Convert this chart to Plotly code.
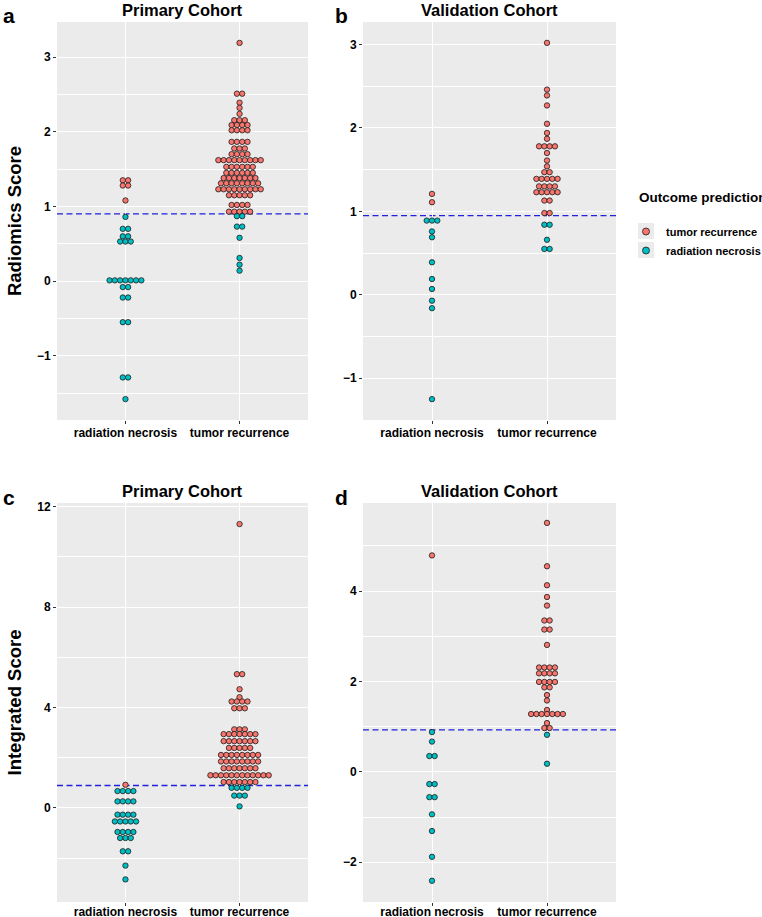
import plotly.graph_objects as go

FIG_W, FIG_H = 762, 917
CATEGORIES = ["radiation necrosis", "tumor recurrence"]
OUTCOMES = ["tumor recurrence", "radiation necrosis"]
COLORS = {"tumor recurrence": "#F8766D", "radiation necrosis": "#00BFC4"}
PANEL_TITLES = ["Primary Cohort", "Validation Cohort", "Primary Cohort", "Validation Cohort"]
PANEL_LETTERS = ["a", "b", "c", "d"]
Y_TITLES = ["Radiomics Score", "Integrated Score"]
LEGEND_TITLE = "Outcome prediction"
THRESHOLDS = [0.90, 0.95, 0.89, 0.93]

# ---- Panel a: Radiomics score, primary cohort (bin value, dots in bin) ----
a_rn_red_y = [1.35, 1.28, 1.08]
a_rn_red_n = [2, 2, 1]
a_rn_cyan_y = [0.86, 0.70, 0.60, 0.53, 0.01, -0.08, -0.22, -0.55, -1.29, -1.58]
a_rn_cyan_n = [1, 2, 2, 3, 7, 2, 2, 2, 2, 1]
a_tr_red_y = [3.19, 2.51, 2.39, 2.32, 2.24, 2.155, 2.09, 2.02, 1.865, 1.776, 1.70,
              1.62, 1.53, 1.45, 1.38, 1.31, 1.23, 1.15, 1.02, 0.93]
a_tr_red_n = [1, 2, 1, 1, 1, 3, 4, 4, 4, 3, 4, 9, 6, 6, 7, 8, 9, 5, 4, 5]
a_tr_cyan_y = [0.87, 0.73, 0.58, 0.31, 0.22, 0.14]
a_tr_cyan_n = [2, 2, 1, 1, 1, 1]

# ---- Panel b: Radiomics score, validation cohort ----
b_rn_red_y = [1.21, 1.11]
b_rn_red_n = [1, 1]
b_rn_cyan_y = [0.89, 0.76, 0.69, 0.39, 0.19, 0.07, -0.07, -0.16, -1.25]
b_rn_cyan_n = [3, 1, 1, 1, 1, 1, 1, 1, 1]
b_tr_red_y = [3.02, 2.46, 2.39, 2.27, 2.05, 1.94, 1.87, 1.78, 1.70, 1.61, 1.54,
              1.47, 1.39, 1.30, 1.23, 1.13, 0.98]
b_tr_red_n = [1, 1, 1, 1, 1, 1, 1, 4, 1, 1, 1, 2, 5, 4, 5, 2, 2]
b_tr_cyan_y = [0.84, 0.66, 0.55]
b_tr_cyan_n = [2, 1, 2]

# ---- Panel c: Integrated score, primary cohort ----
c_rn_red_y = [0.92]
c_rn_red_n = [1]
c_rn_cyan_y = [0.67, 0.26, -0.27, -0.54, -0.96, -1.20, -1.73, -2.30, -2.85]
c_rn_cyan_n = [4, 4, 4, 5, 4, 3, 2, 1, 1]
c_tr_red_y = [11.31, 5.33, 4.73, 4.41, 4.24, 3.97, 3.13, 2.94, 2.66, 2.39, 2.11,
              1.85, 1.58, 1.30, 1.03]
c_tr_red_n = [1, 2, 1, 1, 4, 3, 3, 7, 7, 5, 8, 8, 7, 12, 7]
c_tr_cyan_y = [0.80, 0.49, 0.06]
c_tr_cyan_n = [4, 3, 1]

# ---- Panel d: Integrated score, validation cohort ----
d_rn_red_y = [4.79]
d_rn_red_n = [1]
d_rn_cyan_y = [0.88, 0.67, 0.35, -0.27, -0.56, -0.94, -1.31, -1.88, -2.41]
d_rn_cyan_n = [1, 1, 2, 2, 2, 1, 1, 1, 1]
d_tr_red_y = [5.51, 4.55, 4.13, 3.87, 3.68, 3.35, 3.15, 2.81, 2.31, 2.18, 1.99,
              1.87, 1.70, 1.58, 1.37, 1.28, 1.08, 0.97]
d_tr_red_n = [1, 1, 1, 1, 1, 2, 2, 1, 4, 4, 4, 2, 1, 1, 1, 7, 1, 2]
d_tr_cyan_y = [0.82, 0.18]
d_tr_cyan_n = [1, 1]

PANEL_DATA = [
    [(a_rn_red_y, a_rn_red_n, a_rn_cyan_y, a_rn_cyan_n), (a_tr_red_y, a_tr_red_n, a_tr_cyan_y, a_tr_cyan_n)],
    [(b_rn_red_y, b_rn_red_n, b_rn_cyan_y, b_rn_cyan_n), (b_tr_red_y, b_tr_red_n, b_tr_cyan_y, b_tr_cyan_n)],
    [(c_rn_red_y, c_rn_red_n, c_rn_cyan_y, c_rn_cyan_n), (c_tr_red_y, c_tr_red_n, c_tr_cyan_y, c_tr_cyan_n)],
    [(d_rn_red_y, d_rn_red_n, d_rn_cyan_y, d_rn_cyan_n), (d_tr_red_y, d_tr_red_n, d_tr_cyan_y, d_tr_cyan_n)],
]

# ---- layout geometry (pixels) ----
PANELS = [
    dict(x=(57, 308), y=(22, 420), yr=(-1.86, 3.47), dt=1, mdt=0.5, lab=-1),
    dict(x=(363, 616), y=(22, 420), yr=(-1.50, 3.27), dt=1, mdt=0.5, lab=-1),
    dict(x=(57, 308), y=(503, 902), yr=(-3.75, 12.15), dt=4, mdt=2, lab=-4),
    dict(x=(363, 616), y=(503, 902), yr=(-2.88, 5.95), dt=2, mdt=1, lab=-4),
]
X_RANGE = (0.4, 2.6)
DOT_STEP_PX = 5.3
DOT_SIZE = 5.4
FONT = "Liberation Sans, Arial, sans-serif"
LEG_X, LEG_TITLE_Y, LEG_ITEM_Y, LEG_STEP = 637, 197, 231, 19


def px_x(v):
    return v / FIG_W


def px_y(v):
    return 1 - v / FIG_H


def stack(cat_index, ys, ns, step):
    xs, yy = [], []
    for y, n in zip(ys, ns):
        for i in range(n):
            xs.append(cat_index + (i - (n - 1) / 2) * step)
            yy.append(y)
    return xs, yy


fig = go.Figure()
layout = {}
shapes = []
annotations = []

for p, (panel, data) in enumerate(zip(PANELS, PANEL_DATA)):
    sfx = "" if p == 0 else str(p + 1)
    xa, ya = "x" + sfx, "y" + sfx
    width_px = panel["x"][1] - panel["x"][0]
    step = DOT_STEP_PX * (X_RANGE[1] - X_RANGE[0]) / width_px
    for ci, (ry, rn, cy, cn) in enumerate(data):
        for outcome, ys, ns in (("tumor recurrence", ry, rn), ("radiation necrosis", cy, cn)):
            xs, yy = stack(ci + 1, ys, ns, step)
            fig.add_trace(go.Scatter(
                x=xs, y=yy, mode="markers", xaxis=xa, yaxis=ya,
                marker=dict(size=DOT_SIZE, color=COLORS[outcome],
                            line=dict(color="#1a1a1a", width=0.8)),
                name=outcome, legendgroup=outcome, showlegend=False,
                hovertemplate="%{y:.2f}<extra>" + outcome + "</extra>"))
    xdom = [px_x(panel["x"][0]), px_x(panel["x"][1])]
    ydom = [px_y(panel["y"][1]), px_y(panel["y"][0])]
    tickfont = dict(family=FONT, size=12, color="black", weight="bold")
    layout["xaxis" + sfx] = dict(
        domain=xdom, anchor=ya, range=list(X_RANGE), tickvals=[1, 2], ticktext=CATEGORIES,
        showgrid=True, gridcolor="white", gridwidth=1.2, zeroline=False, showline=False,
        ticks="outside", ticklen=3, tickcolor="#333333", tickwidth=1, tickfont=tickfont,
        ticklabelstandoff=panel["lab"], automargin=False, fixedrange=True)
    ydict = dict(
        domain=ydom, anchor=xa, range=list(panel["yr"]), tick0=0, dtick=panel["dt"],
        showgrid=True, gridcolor="white", gridwidth=1.2, zeroline=False, showline=False,
        ticks="outside", ticklen=3, tickcolor="#333333", tickwidth=1, tickfont=tickfont,
        minor=dict(tick0=0, dtick=panel["mdt"], showgrid=True, gridcolor="white",
                   gridwidth=0.5, ticks=""),
        automargin=False, fixedrange=True)
    if p in (0, 2):
        ydict["title"] = dict(text=Y_TITLES[p // 2],
                              font=dict(family=FONT, size=18.5, color="black", weight="bold"),
                              standoff=10)
    layout["yaxis" + sfx] = ydict
    shapes.append(dict(type="line", xref=xa + " domain", yref=ya, x0=0, x1=1,
                       y0=THRESHOLDS[p], y1=THRESHOLDS[p], layer="below",
                       line=dict(color="#2020DD", width=1.4, dash="6px,3.5px")))
    cx = (panel["x"][0] + panel["x"][1]) / 2
    annotations.append(dict(text=PANEL_TITLES[p], xref="paper", yref="paper",
                            x=px_x(cx), y=px_y(panel["y"][0] - 12),
                            xanchor="center", yanchor="middle", showarrow=False,
                            font=dict(family=FONT, size=16.5, color="black", weight="bold")))
    lx = 9 if p in (0, 2) else 341
    annotations.append(dict(text=PANEL_LETTERS[p], xref="paper", yref="paper",
                            x=px_x(lx), y=px_y(panel["y"][0] - 6),
                            xanchor="center", yanchor="middle", showarrow=False,
                            font=dict(family=FONT, size=21, color="black", weight="bold")))

# legend title and grey legend keys (ggplot style)
annotations.append(dict(text=LEGEND_TITLE, xref="paper", yref="paper",
                        x=px_x(LEG_X), y=px_y(LEG_TITLE_Y), xanchor="left", yanchor="middle",
                        showarrow=False,
                        font=dict(family=FONT, size=13.5, color="black", weight="bold")))
for k in range(len(OUTCOMES)):
    cy = LEG_ITEM_Y + k * LEG_STEP
    shapes.append(dict(type="rect", xref="paper", yref="paper",
                       x0=px_x(638), x1=px_x(654), y0=px_y(cy + 8), y1=px_y(cy - 8),
                       fillcolor="#EBEBEB", line=dict(width=0), layer="below"))

# legend-only traces
for outcome in OUTCOMES:
    fig.add_trace(go.Scatter(
        x=[None], y=[None], mode="markers", name=outcome, legendgroup=outcome,
        marker=dict(size=7, color=COLORS[outcome], line=dict(color="#1a1a1a", width=0.8)),
        showlegend=True))

fig.update_layout(
    width=FIG_W, height=FIG_H,
    margin=dict(l=0, r=0, t=0, b=0, autoexpand=False),
    paper_bgcolor="white", plot_bgcolor="#EBEBEB",
    font=dict(family=FONT, color="black"),
    shapes=shapes, annotations=annotations,
    legend=dict(
        x=px_x(626), y=px_y(LEG_ITEM_Y - 14), xanchor="left", yanchor="top",
        font=dict(family=FONT, size=11, color="black", weight="bold"),
        bgcolor="rgba(0,0,0,0)", tracegroupgap=0, itemwidth=30),
    showlegend=True,
    **layout,
)

fig.write_html("out.html", config={"displayModeBar": False},
               post_script="document.body.style.margin='0';document.body.style.padding='0';")
